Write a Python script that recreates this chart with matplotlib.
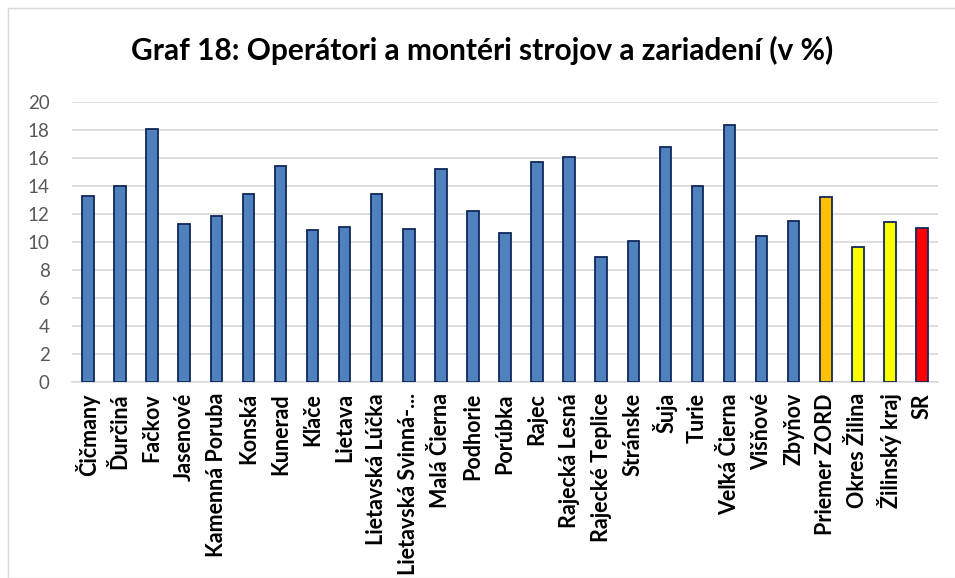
import numpy as np
import matplotlib
matplotlib.use("Agg")
import matplotlib.pyplot as plt
from matplotlib.patches import Rectangle

plt.rcParams['font.family'] = ['Lato', 'DejaVu Sans']

# data
obce = ["Čičmany", "Ďurčiná", "Fačkov", "Jasenové", "Kamenná Poruba", "Konská",
        "Kunerad", "Kľače", "Lietava", "Lietavská Lúčka", "Lietavská Svinná-...",
        "Malá Čierna", "Podhorie", "Porúbka", "Rajec", "Rajecká Lesná",
        "Rajecké Teplice", "Stránske", "Šuja", "Turie", "Veľká Čierna", "Višňové",
        "Zbyňov", "Priemer ZORD", "Okres Žilina", "Žilinský kraj", "SR"]
hodnoty = [13.3, 14.0, 18.1, 11.3, 11.85, 13.4,
           15.4, 10.85, 11.05, 13.45, 10.9,
           15.25, 12.2, 10.65, 15.7, 16.05,
           8.95, 10.1, 16.8, 14.0, 18.35, 10.45,
           11.5, 13.2, 9.65, 11.45, 11.0]
farby = ["#4F81BD"] * 23 + ["#FFC000", "#FFFF00", "#FFFF00", "#FF0000"]

fig = plt.figure(figsize=(9.55, 5.78), dpi=100)
ax = fig.add_axes([72 / 955, 1 - 382 / 578, 866 / 955, 280 / 578])

x = np.arange(len(obce))
ax.bar(x, hodnoty, width=0.36, color=farby, edgecolor="#10285A", linewidth=1.3, zorder=3)

ax.set_ylim(0, 20)
ax.set_xlim(-0.5, len(obce) - 0.5)
ax.set_yticks(np.arange(0, 21, 2))
ax.yaxis.grid(True, color="#D9D9D9", linewidth=1.2, zorder=0)
for s in ["top", "right", "left"]:
    ax.spines[s].set_visible(False)
ax.spines["bottom"].set_color("#D9D9D9")
ax.spines["bottom"].set_linewidth(1.2)
ax.tick_params(axis="both", length=0)
ax.tick_params(axis="y", labelsize=13.5, labelcolor="#595959", pad=16)
ax.tick_params(axis="x", pad=8)
ax.set_xticks(x)
ax.set_xticklabels(obce, rotation=90, fontsize=15.5, fontweight="bold", color="black")

fig.text(0.505, 1 - 50 / 578, "Graf 18: Operátori a montéri strojov a zariadení (v %)",
         ha="center", va="center", fontsize=21.5, fontweight="bold")

# frame around the chart
fig.patches.append(Rectangle((8 / 955, 0), 1, 1 - 8 / 578, transform=fig.transFigure,
                             fill=False, edgecolor="#D9D9D9", linewidth=1))

fig.savefig("out.png", dpi=100)
